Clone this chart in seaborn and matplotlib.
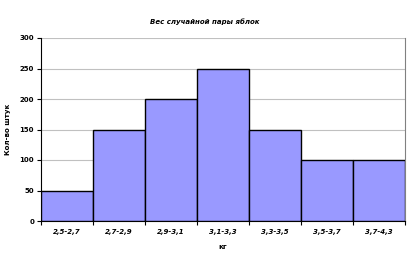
import matplotlib
matplotlib.use("Agg")
import matplotlib.pyplot as plt
import seaborn as sns
import pandas as pd
import numpy as np

categories = ["2,5-2,7", "2,7-2,9", "2,9-3,1", "3,1-3,3", "3,3-3,5", "3,5-3,7", "3,7-4,3"]
counts = [50, 150, 200, 250, 150, 100, 100]
yticks = [0, 50, 100, 150, 200, 250, 300]

sns.set_theme(style="white")
plt.rcParams['font.family'] = ['DejaVu Sans']
plt.rcParams['text.color'] = 'black'
plt.rcParams['axes.labelcolor'] = 'black'
plt.rcParams['xtick.color'] = 'black'
plt.rcParams['ytick.color'] = 'black'

df = pd.DataFrame({"cat": categories, "n": counts})

fig = plt.figure(figsize=(4.14, 2.57), dpi=100)
ax = fig.add_axes([41/414, 1-221/257, (405-41)/414, (221-38)/257])

sns.barplot(data=df, x="cat", y="n", ax=ax, color="#9999FF", saturation=1,
            width=1.0, edgecolor="black", linewidth=1.0, zorder=3)

ax.set_ylim(0, 300)
ax.set_xlim(-0.5, len(categories) - 0.5)
ax.set_yticks(yticks)
ax.set_yticklabels([str(v) for v in yticks], fontsize=5, fontweight="bold", color="black")
ax.grid(axis="y", color="#C0C0C0", linewidth=0.8, zorder=0)
ax.set_axisbelow(True)

ax.set_xticks(range(len(categories)))
ax.set_xticklabels(categories, fontsize=5, fontweight="bold", style="italic", color="black")
ax.tick_params(axis="x", which="major", length=0, pad=6)
ax.set_xticks(np.arange(-0.5, len(categories), 1), minor=True)
ax.tick_params(axis="x", which="minor", length=3, width=0.8, color="black", direction="out", bottom=True)
ax.tick_params(axis="y", length=3, width=0.8, color="black", direction="out", left=True, pad=2)

for s in ["left", "bottom"]:
    ax.spines[s].set_color("black")
    ax.spines[s].set_linewidth(0.8)
for s in ["right", "top"]:
    ax.spines[s].set_color("#808080")
    ax.spines[s].set_linewidth(0.8)
ax.spines["top"].set_visible(False)

ax.set_xlabel("кг", fontsize=5, fontweight="bold", labelpad=6, color="black")
ax.set_ylabel("Кол-во штук", fontsize=5, fontweight="bold", labelpad=6, color="black")
fig.text(205/414, 1-22/257, "Вес случайной пары яблок", fontsize=5, fontweight="bold",
         style="italic", ha="center", va="center", color="black")

fig.savefig("out.png", dpi=100, facecolor="white")
